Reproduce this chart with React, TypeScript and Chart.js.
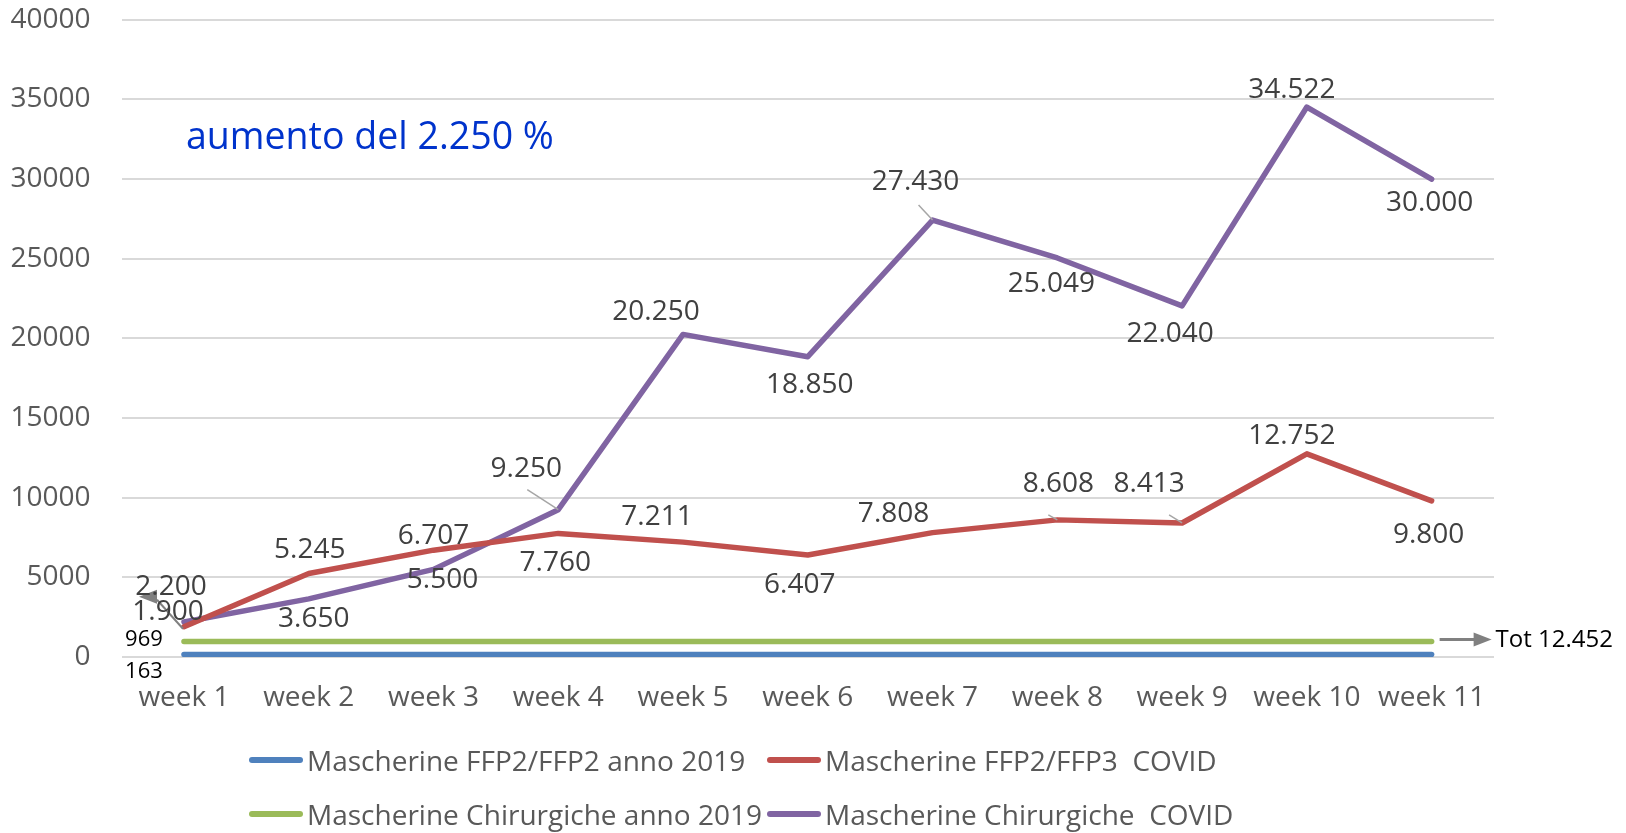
import React, { useEffect, useRef } from "react";
import { Chart, registerables } from "chart.js";

Chart.register(...registerables);

const categories = ["week 1", "week 2", "week 3", "week 4", "week 5", "week 6", "week 7", "week 8", "week 9", "week 10", "week 11"];
const ffp2019 = [163, 163, 163, 163, 163, 163, 163, 163, 163, 163, 163];
const ffpCovid = [1900, 5245, 6707, 7760, 7211, 6407, 7808, 8608, 8413, 12752, 9800];
const chir2019 = [969, 969, 969, 969, 969, 969, 969, 969, 969, 969, 969];
const chirCovid = [2200, 3650, 5500, 9250, 20250, 18850, 27430, 25049, 22040, 34522, 30000];
const seriesNames = [
  "Mascherine FFP2/FFP2 anno 2019",
  "Mascherine FFP2/FFP3  COVID",
  "Mascherine Chirurgiche anno 2019",
  "Mascherine Chirurgiche  COVID",
];
const yTicks = [0, 5000, 10000, 15000, 20000, 25000, 30000, 35000, 40000];
const noteText = "aumento del 2.250 %";
const totText = "Tot 12.452";

// label offsets (styling, px relative to point)
const offFfp2019: (number[] | null)[] = [[-40, 17], null, null, null, null, null, null, null, null, null, null];
const offFfpCovid: (number[] | null)[] = [[-16, -15], [1, -23], [0, -14], [-3, 30], [-26, -25], [-8, 30], [-39, -19], [1, -36], [-33, -39], [-15, -18], [-3, 34]];
const offChir2019: (number[] | null)[] = [[-40, -2], null, null, null, null, null, null, null, null, null, null];
const offChirCovid: (number[] | null)[] = [[-13, -35], [5, 20], [9, 11], [-32, -41], [-27, -22], [2, 28], [-17, -38], [-6, 26], [-12, 28], [-15, -17], [-2, 24]];
// leader lines: [datasetIndex, pointIndex, startDx, startDy]
const leaders = [
  [3, 3, -31, -20],
  [3, 6, -14, -15],
  [1, 7, -9, -5],
  [1, 8, -13, -8],
];

const colors = ["#4f81bd", "#c0504d", "#9bbb59", "#8064a2"];
const FONT = "'Open Sans', sans-serif";

function fmt(v: number): string {
  const s = String(Math.round(v));
  return s.replace(/\B(?=(\d{3})+(?!\d))/g, ".");
}

const labelPlugin = {
  id: "labels",
  afterDatasetsDraw(chart: any) {
    const ctx = chart.ctx;
    const offsets = [offFfp2019, offFfpCovid, offChir2019, offChirCovid];
    ctx.save();
    // leaders
    ctx.strokeStyle = "#a6a6a6";
    ctx.lineWidth = 1.5;
    leaders.forEach(([di, pi, dx, dy]) => {
      const el = chart.getDatasetMeta(di).data[pi];
      ctx.beginPath();
      ctx.moveTo(el.x + dx, el.y + dy);
      ctx.lineTo(el.x, el.y);
      ctx.stroke();
    });
    // arrow near week 1
    {
      const el = chart.getDatasetMeta(1).data[0];
      ctx.strokeStyle = "#808080";
      ctx.lineWidth = 2;
      ctx.beginPath();
      ctx.moveTo(el.x - 1, el.y + 2);
      ctx.lineTo(el.x - 27, el.y - 27);
      ctx.stroke();
      ctx.fillStyle = "#808080";
      ctx.beginPath();
      ctx.moveTo(el.x - 45, el.y - 30);
      ctx.lineTo(el.x - 27, el.y - 37);
      ctx.lineTo(el.x - 27, el.y - 23);
      ctx.closePath();
      ctx.fill();
    }
    ctx.textAlign = "center";
    ctx.textBaseline = "middle";
    chart.data.datasets.forEach((ds: any, di: number) => {
      const meta = chart.getDatasetMeta(di);
      ds.data.forEach((v: number, i: number) => {
        const off = offsets[di][i];
        if (!off) return;
        const el = meta.data[i];
        if (di === 0 || di === 2) {
          ctx.font = `22px ${FONT}`;
          ctx.fillStyle = "#000000";
        } else {
          ctx.font = `28px ${FONT}`;
          ctx.fillStyle = "#404040";
        }
        ctx.fillText(fmt(v), el.x + off[0], el.y + off[1]);
      });
    });
    // note
    ctx.font = `37.5px ${FONT}`;
    ctx.fillStyle = "#0033cc";
    ctx.textAlign = "left";
    ctx.fillText(noteText, 186, 138);
    // tot arrow
    const g = chart.getDatasetMeta(2).data[10];
    ctx.strokeStyle = "#808080";
    ctx.lineWidth = 3;
    ctx.beginPath();
    ctx.moveTo(g.x + 8, g.y - 2);
    ctx.lineTo(g.x + 45, g.y - 2);
    ctx.stroke();
    ctx.fillStyle = "#808080";
    ctx.beginPath();
    ctx.moveTo(g.x + 60, g.y - 2);
    ctx.lineTo(g.x + 42, g.y - 9);
    ctx.lineTo(g.x + 42, g.y + 5);
    ctx.closePath();
    ctx.fill();
    ctx.font = `24px ${FONT}`;
    ctx.fillStyle = "#000000";
    ctx.fillText(totText, g.x + 64, g.y - 1);
    ctx.restore();
  },
};

export default function App() {
  const ref = useRef<HTMLCanvasElement>(null);
  useEffect(() => {
    if (!ref.current) return;
    const series = [ffp2019, ffpCovid, chir2019, chirCovid];
    const chart = new Chart(ref.current, {
      type: "line",
      data: {
        labels: categories,
        datasets: series.map((d, i) => ({
          label: seriesNames[i],
          data: d,
          borderColor: colors[i],
          backgroundColor: colors[i],
          borderWidth: 5.5,
          borderCapStyle: "round",
          borderJoinStyle: "round",
          pointRadius: 0,
          tension: 0,
        })),
      },
      options: {
        animation: false,
        responsive: false,
        layout: { padding: { left: 0, right: 132, top: 19.5, bottom: 0 } },
        plugins: { legend: { display: false }, tooltip: { enabled: false } },
        scales: {
          x: {
            offset: true,
            grid: { display: false, drawTicks: false },
            border: { display: false },
            ticks: { font: { family: FONT, size: 28 }, color: "#595959", padding: 24 },
            afterFit: (s: any) => { s.height = 176; },
          },
          y: {
            min: 0,
            max: 40000,
            afterBuildTicks: (s: any) => { s.ticks = yTicks.map((v) => ({ value: v })); },
            grid: { color: "#d9d9d9", lineWidth: 2, drawTicks: true, tickLength: 28, tickColor: "rgba(0,0,0,0)" },
            border: { display: false },
            ticks: {
              font: { family: FONT, size: 28 },
              color: "#595959",
              padding: 3,
              callback: (v: any) => String(v),
            },
            afterFit: (s: any) => { s.width = 121.6; },
          },
        },
      },
      plugins: [labelPlugin],
    });
    return () => chart.destroy();
  }, []);

  const legendItem = (i: number, left: number, top: number) => (
    <div key={i} style={{ position: "absolute", left, top, height: 40, display: "flex", alignItems: "center" }}>
      <div style={{ width: 54, height: 6, borderRadius: 3, background: colors[i], marginRight: 4 }} />
      <span style={{ fontFamily: FONT, fontSize: 28, color: "#595959", whiteSpace: "pre" }}>{seriesNames[i]}</span>
    </div>
  );

  return (
    <div style={{ position: "absolute", left: 0, top: 0, width: 1626, height: 833, background: "#fff" }}>
      <canvas ref={ref} width={1626} height={833} style={{ position: "absolute", left: 0, top: 0 }} />
      {legendItem(0, 249, 740)}
      {legendItem(1, 767, 740)}
      {legendItem(2, 249, 794)}
      {legendItem(3, 767, 794)}
    </div>
  );
}
